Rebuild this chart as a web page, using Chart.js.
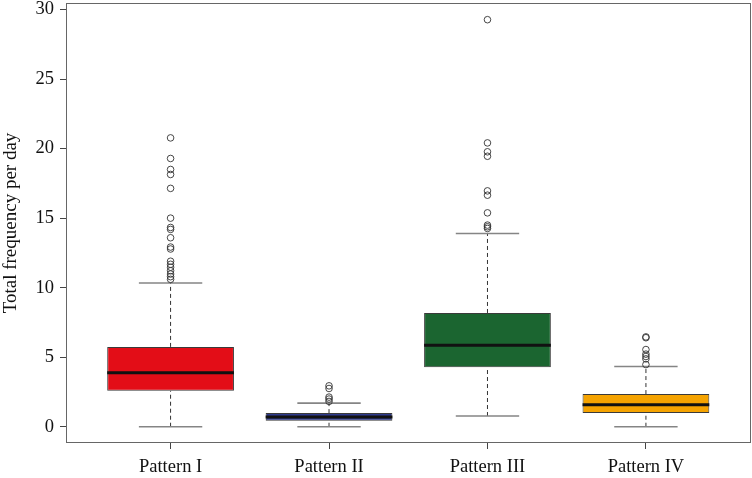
<!DOCTYPE html>
<html>
<head>
<meta charset="utf-8">
<script src="https://cdn.jsdelivr.net/npm/chart.js@4/dist/chart.umd.min.js"></script>
<style>
  html, body { margin: 0; padding: 0; background: #fff; }
  #wrap { width: 752px; height: 478px; }
</style>
</head>
<body>
<div id="wrap"><canvas id="chart"></canvas></div>
<script>
// Box plot data
const categories = ['Pattern I', 'Pattern II', 'Pattern III', 'Pattern IV'];
const q1 = [2.58, 0.43, 4.28, 0.98];
const medians = [3.88, 0.70, 5.86, 1.58];
const q3 = [5.74, 0.98, 8.18, 2.35];
const whiskerLow = [0, 0, 0.77, 0];
const whiskerHigh = [10.34, 1.70, 13.90, 4.33];
const outliers = [
  [20.77, 19.29, 18.5, 18.14, 17.14, 15.0, 14.33, 14.19, 13.59, 12.92, 12.78, 11.9, 11.68, 11.47, 11.22, 10.98, 10.79, 10.6],
  [2.94, 2.75, 2.13, 1.99, 1.82],
  [29.27, 20.41, 19.77, 19.45, 16.96, 16.65, 15.38, 14.5, 14.38, 14.26],
  [6.46, 6.4, 5.55, 5.22, 5.05, 4.88, 4.47]
];
const yTicks = [0, 5, 10, 15, 20, 25, 30];

const boxColors = ['#e30d17', '#2e3a8c', '#1b6530', '#f5a300'];
const boxHalf = 0.4, capHalf = 0.2;
const serif = '"Liberation Serif", "DejaVu Serif", serif';

// helper: list of [x1,y1,x2,y2] segments -> points with gaps
const segments = (list) => list.flatMap(([x1, y1, x2, y2]) => [
  { x: x1, y: y1 }, { x: x2, y: y2 }, { x: x2, y: null }
]);

const pos = categories.map((c, i) => i + 1);

const whiskerPts = segments(pos.flatMap((x, i) => [
  [x, q3[i], x, whiskerHigh[i]],
  [x, whiskerLow[i], x, q1[i]]
]));
const capPts = segments(pos.flatMap((x, i) => [
  [x - capHalf, whiskerHigh[i], x + capHalf, whiskerHigh[i]],
  [x - capHalf, whiskerLow[i], x + capHalf, whiskerLow[i]]
]));
const medianPts = segments(pos.map((x, i) => [x - boxHalf, medians[i], x + boxHalf, medians[i]]));
const outlierPts = pos.flatMap((x, i) => outliers[i].map(v => ({ x: x, y: v })));

// frame around the plot region
const frame = {
  id: 'frame',
  afterDraw(chart) {
    const { ctx, chartArea: a } = chart;
    ctx.save();
    ctx.strokeStyle = '#666';
    ctx.lineWidth = 1;
    ctx.strokeRect(Math.round(a.left) + 0.5, Math.round(a.top) + 0.5,
      Math.round(a.right - a.left) - 1, Math.round(a.bottom - a.top) - 1);
    ctx.restore();
  }
};

new Chart(document.getElementById('chart'), {
  type: 'bar',
  data: {
    datasets: [
      {
        type: 'line', data: medianPts, order: 0,
        borderColor: '#111', borderWidth: 3, pointRadius: 0, spanGaps: false
      },
      {
        type: 'scatter', data: outlierPts, order: 1,
        pointRadius: 3.3, pointBorderWidth: 0.9,
        pointBorderColor: '#333', pointBackgroundColor: 'rgba(0,0,0,0)'
      },
      {
        type: 'bar', order: 2,
        data: pos.map((x, i) => ({ x: x, y: [q1[i], q3[i]] })),
        backgroundColor: boxColors, borderColor: '#3a3a3a', borderWidth: 1,
        borderSkipped: false, categoryPercentage: 1, barPercentage: 0.8
      },
      {
        type: 'line', data: capPts, order: 3,
        borderColor: '#858585', borderWidth: 1.6, pointRadius: 0, spanGaps: false
      },
      {
        type: 'line', data: whiskerPts, order: 4,
        borderColor: '#333', borderWidth: 1, borderDash: [4, 3], pointRadius: 0, spanGaps: false
      }
    ]
  },
  options: {
    responsive: true,
    maintainAspectRatio: false,
    animation: false,
    layout: { autoPadding: false, padding: { top: 3, right: 1.5, bottom: 0, left: 0 } },
    plugins: { legend: { display: false }, tooltip: { enabled: false } },
    scales: {
      x: {
        type: 'linear', min: 0.34, max: 4.66, offset: false,
        border: { display: false },
        grid: { drawOnChartArea: false, offset: false, tickLength: 6, color: '#444' },
        afterBuildTicks: (s) => { s.ticks = pos.map(v => ({ value: v })); },
        afterFit: (s) => { s.height = 35; s.paddingLeft = 0; s.paddingRight = 0; },
        ticks: {
          autoSkip: false, maxRotation: 0, padding: 7, color: '#111',
          font: { family: serif, size: 18.5 },
          callback: (v) => categories[Math.round(v) - 1]
        }
      },
      y: {
        min: -1.17, max: 30.47,
        border: { display: false },
        grid: { drawOnChartArea: false, tickLength: 6, color: '#444' },
        afterBuildTicks: (s) => { s.ticks = yTicks.map(v => ({ value: v })); },
        afterFit: (s) => { s.width = 66; s.paddingTop = 0; s.paddingBottom = 0; },
        ticks: {
          padding: 6, color: '#111',
          font: { family: serif, size: 18.5 }
        },
        title: {
          display: true, text: 'Total frequency per day', color: '#111',
          padding: { top: 0, bottom: 0 },
          font: { family: serif, size: 19 }
        }
      }
    }
  },
  plugins: [frame]
});
</script>
</body>
</html>
